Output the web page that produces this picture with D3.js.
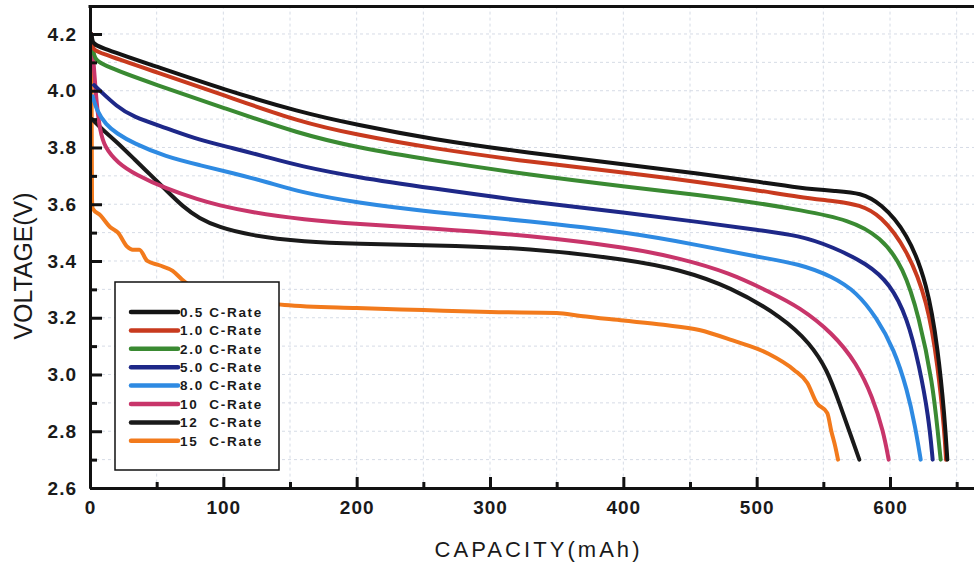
<!DOCTYPE html>
<html>
<head>
<meta charset="utf-8">
<script src="https://cdn.jsdelivr.net/npm/d3@7"></script>
<style>
  html, body { margin: 0; padding: 0; background: #fff; }
  svg { display: block; }
  text { font-family: "Liberation Sans", Arial, sans-serif; }
</style>
</head>
<body>
<svg id="chart" width="974" height="563"></svg>
<script>
// ---------------- DATA ----------------
const seriesNames = ["0.5 C-Rate", "1.0 C-Rate", "2.0 C-Rate", "5.0 C-Rate", "8.0 C-Rate", "10  C-Rate", "12  C-Rate", "15  C-Rate"];
const palette = ["#141414", "#c83a1e", "#3a8a32", "#1e2888", "#2e8ae2", "#c8356a", "#1a1a1a", "#f27a1c"];

// [capacity mAh, voltage V]
const rate05 = [[1,4.20],[2,4.17],[4,4.158],[50,4.085],[100,4.005],[157,3.925],[200,3.88],[255,3.83],[330,3.78],[405,3.738],[457,3.708],[500,3.68],[532,3.657],[560,3.646],[578,3.64],[593,3.604],[613,3.50],[628,3.32],[636,3.09],[641,2.85],[643,2.70]];
const rate10 = [[1,4.19],[2,4.15],[4,4.138],[50,4.065],[100,3.985],[157,3.89],[200,3.845],[255,3.798],[330,3.749],[405,3.71],[457,3.678],[500,3.65],[532,3.625],[560,3.61],[577,3.598],[593,3.562],[613,3.44],[628,3.26],[636,3.03],[641,2.79],[642,2.70]];
const rate20 = [[1,4.18],[3,4.12],[6,4.095],[50,4.02],[100,3.94],[157,3.848],[200,3.80],[255,3.756],[330,3.703],[405,3.66],[457,3.633],[500,3.605],[532,3.58],[570,3.545],[593,3.485],[610,3.38],[622,3.20],[632,2.97],[636,2.79],[638,2.70]];
const rate50 = [[3,4.02],[7.5,4.00],[20,3.945],[32,3.908],[57,3.869],[82,3.826],[107,3.798],[133,3.766],[157,3.735],[200,3.695],[255,3.657],[330,3.608],[405,3.569],[457,3.537],[500,3.51],[532,3.49],[557,3.45],[583,3.39],[600,3.32],[613,3.20],[622,3.03],[629,2.85],[632,2.70]];
const rate80 = [[2,3.98],[5,3.93],[12,3.88],[20,3.85],[32,3.816],[57,3.767],[82,3.738],[107,3.71],[133,3.678],[157,3.643],[200,3.605],[255,3.573],[330,3.54],[405,3.50],[457,3.455],[500,3.415],[532,3.39],[557,3.345],[575,3.29],[590,3.20],[603,3.09],[613,2.945],[619,2.815],[623,2.70]];
const rate100 = [[1,4.20],[3,4.08],[5,3.95],[7.5,3.86],[11,3.80],[21,3.745],[34,3.705],[57,3.655],[82,3.615],[96,3.597],[120,3.572],[161,3.545],[200,3.53],[255,3.516],[330,3.49],[405,3.446],[442,3.41],[480,3.358],[510,3.29],[532,3.238],[557,3.146],[575,3.04],[587,2.92],[595,2.80],[599,2.70]];
const rate120 = [[1.5,3.90],[10,3.86],[20,3.82],[34,3.755],[45,3.705],[57,3.65],[70,3.59],[82,3.55],[96,3.52],[120,3.49],[161,3.467],[200,3.46],[255,3.456],[330,3.446],[405,3.404],[442,3.37],[480,3.31],[520,3.20],[540,3.11],[553,3.016],[562,2.90],[571,2.78],[577,2.70]];
const rate150 = [[1,4.20],[1.5,3.62],[2,3.585],[8,3.56],[15,3.52],[21,3.50],[28,3.45],[32,3.44],[37,3.44],[43,3.40],[52,3.385],[62,3.365],[69,3.335],[79,3.30],[100,3.27],[125,3.255],[146,3.245],[200,3.234],[250,3.227],[300,3.22],[350,3.217],[368,3.206],[400,3.19],[430,3.175],[457,3.157],[482,3.12],[508,3.075],[528,3.016],[538,2.97],[545,2.90],[553,2.864],[556,2.80],[559,2.745],[561,2.70]];
const allSeries = [rate05, rate10, rate20, rate50, rate80, rate100, rate120, rate150];

const xMajorTicks = [0, 100, 200, 300, 400, 500, 600];
const xTickLabels = ["0", "100", "200", "300", "400", "500", "600"];
const xMinorTicks = [50, 150, 250, 350, 450, 550, 650];
const yMajorTicks = [2.6, 2.8, 3.0, 3.2, 3.4, 3.6, 3.8, 4.0, 4.2];
const yTickLabels = ["2.6", "2.8", "3.0", "3.2", "3.4", "3.6", "3.8", "4.0", "4.2"];
const yMinorTicks = [2.7, 2.9, 3.1, 3.3, 3.5, 3.7, 3.9, 4.1];
const xTitle = "CAPACITY(mAh)";
const yTitle = "VOLTAGE(V)";

// ---------------- LAYOUT ----------------
const svg = d3.select("#chart");
const plotLeft = 90, plotRight = 974, plotTop = 5.6, plotBottom = 488;
const x = d3.scaleLinear().domain([0, 663]).range([plotLeft, plotRight]);
const y = d3.scaleLinear().domain([2.6, 4.3]).range([plotBottom, plotTop]);

// grid
const grid = svg.append("g").attr("stroke", "#d6dce6").attr("stroke-width", 1).attr("stroke-dasharray", "3,3");
const gridX = d3.range(50, 651, 50);
const gridY = d3.range(27, 43).map(d => d / 10);
grid.selectAll("line.gx").data(gridX).join("line").attr("class", "gx")
  .attr("x1", d => x(d)).attr("x2", d => x(d)).attr("y1", plotTop).attr("y2", plotBottom);
grid.selectAll("line.gy").data(gridY).join("line").attr("class", "gy")
  .attr("x1", plotLeft).attr("x2", plotRight).attr("y1", d => y(d)).attr("y2", d => y(d));

// curves
const smoothLine = d3.line().x(d => x(d[0])).y(d => y(d[1])).curve(d3.curveBasis);
const roughLine = d3.line().x(d => x(d[0])).y(d => y(d[1])).curve(d3.curveMonotoneX);
const order = [7, 6, 5, 4, 3, 2, 1, 0];
svg.append("g").selectAll("path").data(order).join("path")
  .attr("d", i => (i === 7 ? roughLine : smoothLine)(allSeries[i]))
  .attr("fill", "none")
  .attr("stroke", i => palette[i])
  .attr("stroke-width", 4)
  .attr("stroke-linejoin", "round")
  .attr("stroke-linecap", "round");

// axes
function styleAxis(g) {
  g.selectAll(".domain").attr("stroke", "#111").attr("stroke-width", 3);
  g.selectAll(".tick line").attr("stroke", "#111").attr("stroke-width", 3);
  g.selectAll(".tick text").attr("fill", "#1a1a1a").attr("font-size", 19).attr("font-weight", "bold").attr("letter-spacing", 1);
}
const xAxisMajor = d3.axisBottom(x).tickValues(xMajorTicks).tickSizeInner(-11).tickSizeOuter(0).tickPadding(13)
  .tickFormat((d, i) => xTickLabels[i]);
const xAxisMinor = d3.axisBottom(x).tickValues(xMinorTicks).tickSizeInner(-6).tickSizeOuter(0).tickFormat("");
const yAxisMajor = d3.axisLeft(y).tickValues(yMajorTicks).tickSizeInner(-12).tickSizeOuter(0).tickPadding(13)
  .tickFormat((d, i) => yTickLabels[i]);
const yAxisMinor = d3.axisLeft(y).tickValues(yMinorTicks).tickSizeInner(-7).tickSizeOuter(0).tickFormat("");

svg.append("g").attr("transform", `translate(0,${plotBottom})`).call(xAxisMinor).call(styleAxis);
svg.append("g").attr("transform", `translate(0,${plotBottom})`).call(xAxisMajor).call(styleAxis);
svg.append("g").attr("transform", `translate(${plotLeft},0)`).call(yAxisMinor).call(styleAxis);
svg.append("g").attr("transform", `translate(${plotLeft},0)`).call(yAxisMajor).call(styleAxis);
svg.selectAll("text").attr("font-family", "'Liberation Sans', Arial, sans-serif");

// top frame
svg.append("line").attr("x1", plotLeft - 1.5).attr("x2", plotRight).attr("y1", y(4.3) + 1).attr("y2", y(4.3) + 1)
  .attr("stroke", "#111").attr("stroke-width", 3);

// titles
svg.append("text").attr("x", 537).attr("y", 557).attr("text-anchor", "middle")
  .attr("font-family", "'Liberation Sans', Arial, sans-serif")
  .attr("font-size", 22).attr("fill", "#1a1a1a").attr("textLength", 205).attr("lengthAdjust", "spacing")
  .text(xTitle);
svg.append("text").attr("transform", "translate(32,266) rotate(-90)").attr("text-anchor", "middle")
  .attr("font-family", "'Liberation Sans', Arial, sans-serif")
  .attr("font-size", 25).attr("fill", "#1a1a1a").attr("textLength", 147).attr("lengthAdjust", "spacingAndGlyphs")
  .text(yTitle);

// legend
const lg = svg.append("g");
lg.append("rect").attr("x", 115).attr("y", 282).attr("width", 164).attr("height", 188)
  .attr("fill", "#fff").attr("stroke", "#111").attr("stroke-width", 1.5);
const rowY = i => 312 + i * 18.4;
const items = lg.selectAll("g.item").data(seriesNames).join("g").attr("class", "item");
items.append("line").attr("x1", 131).attr("x2", 178).attr("y1", (d, i) => rowY(i)).attr("y2", (d, i) => rowY(i))
  .attr("stroke", (d, i) => palette[i]).attr("stroke-width", 4.5).attr("stroke-linecap", "round");
items.append("text").attr("x", 180).attr("y", (d, i) => rowY(i) + 4.8)
  .attr("font-family", "'Liberation Sans', Arial, sans-serif")
  .attr("font-size", 13.5).attr("font-weight", "bold").attr("letter-spacing", 1.7).attr("fill", "#1a1a1a")
  .style("white-space", "pre").text(d => d);
</script>
</body>
</html>
